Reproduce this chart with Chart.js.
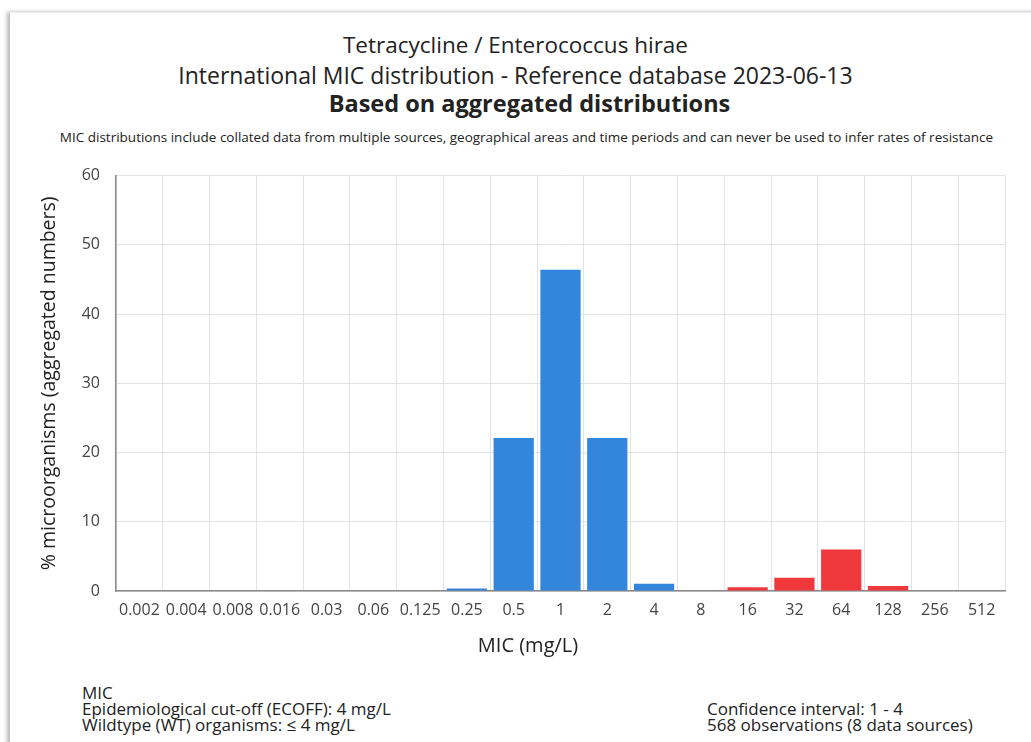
<!DOCTYPE html>
<html>
<head>
<meta charset="utf-8">
<script src="https://cdn.jsdelivr.net/npm/chart.js@4/dist/chart.umd.min.js"></script>
<style>
  html, body {
    margin: 0;
    padding: 0;
    background: #ffffff;
    width: 1031px;
    height: 742px;
    overflow: hidden;
    font-family: "Open Sans", sans-serif;
    color: #222;
  }
  .card {
    position: absolute;
    left: 10px;
    top: 12px;
    width: 1040px;
    height: 760px;
    background: #fff;
    border-top: 1px solid #ececec;
    box-shadow: -3px 0 4px rgba(0, 0, 0, 0.28);
  }
  .title {
    position: absolute;
    left: 0;
    width: 1031px;
    text-align: center;
    white-space: nowrap;
  }
  #t1 { top: 29px; font-size: 22.5px; }
  #t2 { top: 59px; font-size: 23px; }
  #t3 { top: 87px; left: 14px; font-size: 23.5px; font-weight: bold; }
  #t4 { top: 128px; left: 11px; font-size: 13.5px; }
  #chartBox {
    position: absolute;
    left: 0;
    top: 150px;
    width: 1031px;
    height: 510px;
  }
  #xTitle {
    position: absolute;
    left: 428px;
    width: 200px;
    top: 631px;
    text-align: center;
    font-size: 20px;
  }
  .foot {
    position: absolute;
    top: 685px;
    font-size: 17px;
    line-height: 16px;
    color: #222;
  }
</style>
</head>
<body>
<div class="card"></div>
<div class="title" id="t1">Tetracycline / Enterococcus hirae</div>
<div class="title" id="t2">International MIC distribution - Reference database 2023-06-13</div>
<div class="title" id="t3">Based on aggregated distributions</div>
<div class="title" id="t4">MIC distributions include collated data from multiple sources, geographical areas and time periods and can never be used to infer rates of resistance</div>
<div id="chartBox"><canvas id="micChart"></canvas></div>
<div id="xTitle">MIC (mg/L)</div>
<div class="foot" style="left:82px">MIC<br>Epidemiological cut-off (ECOFF): 4 mg/L<br>Wildtype (WT) organisms: ≤ 4 mg/L</div>
<div class="foot" style="left:707px">&nbsp;<br>Confidence interval: 1 - 4<br>568 observations (8 data sources)</div>

<script>
const micLabels = ["0.002", "0.004", "0.008", "0.016", "0.03", "0.06", "0.125", "0.25", "0.5",
  "1", "2", "4", "8", "16", "32", "64", "128", "256", "512"];

// percent of organisms per MIC, wildtype (<= ECOFF) and non-wildtype
const wildtypeValues = [0, 0, 0, 0, 0, 0, 0, 0.35, 22.1, 46.4, 22.1, 1.05, 0, 0, 0, 0, 0, 0, 0];
const nonWildtypeValues = [0, 0, 0, 0, 0, 0, 0, 0, 0, 0, 0, 0, 0, 0.53, 1.9, 6.0, 0.72, 0, 0];

const yTicks = [0, 10, 20, 30, 40, 50, 60];

const BLUE = "#3386dc";
const RED = "#ee383c";

function renderChart() {
  const ctx = document.getElementById("micChart");

  new Chart(ctx, {
    type: "bar",
    data: {
      labels: micLabels,
      datasets: [
        {
          label: "WT",
          data: wildtypeValues,
          backgroundColor: BLUE,
          barPercentage: 0.86,
          categoryPercentage: 1
        },
        {
          label: "NWT",
          data: nonWildtypeValues,
          backgroundColor: RED,
          barPercentage: 0.86,
          categoryPercentage: 1
        }
      ]
    },
    options: {
      responsive: true,
      maintainAspectRatio: false,
      animation: false,
      layout: {
        padding: { left: 30, right: 26, top: 23, bottom: 0 }
      },
      plugins: {
        legend: { display: false },
        tooltip: { enabled: false }
      },
      scales: {
        x: {
          stacked: true,
          grid: { color: "#e3e3e3", drawTicks: false },
          border: { color: "#8a8a8a", width: 1.5 },
          ticks: {
            color: "#444",
            padding: 10,
            maxRotation: 0,
            autoSkip: false,
            font: { family: "Open Sans", size: 16 }
          },
          afterFit: (axis) => { axis.height = 69; }
        },
        y: {
          stacked: true,
          min: 0,
          max: 60,
          afterBuildTicks: (axis) => {
            axis.ticks = yTicks.map((v) => ({ value: v }));
          },
          grid: { color: "#e3e3e3", drawTicks: false },
          border: { color: "#8a8a8a", width: 1.5 },
          ticks: {
            color: "#444",
            padding: 16,
            font: { family: "Open Sans", size: 16 }
          },
          title: {
            display: true,
            text: "% microorganisms (aggregated numbers)",
            color: "#222",
            padding: { top: 8, bottom: 0 },
            font: { family: "Open Sans", size: 19.5 }
          },
          afterFit: (axis) => { axis.width = 86; }
        }
      }
    }
  });
}

renderChart();
</script>
</body>
</html>
